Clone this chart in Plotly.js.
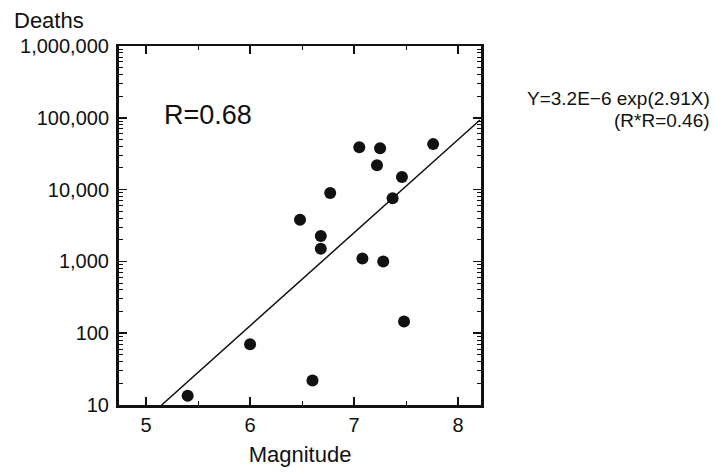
<!DOCTYPE html>
<html>
<head>
<meta charset="utf-8">
<script src="https://cdn.plot.ly/plotly-3.0.1.min.js"></script>
<style>html,body{margin:0;padding:0;background:#fff;}#chart{width:715px;height:473px;}</style>
</head>
<body>
<div id="chart"></div>
<script>
// Data
const magnitude = [5.40, 6.00, 6.60, 6.68, 6.68, 7.08, 7.28, 7.48, 7.05, 7.25, 7.76, 7.22, 7.46, 6.77, 7.37, 6.48];
const deaths    = [13.5, 70, 22, 2250, 1500, 1100, 1000, 145, 38800, 37600, 43000, 21800, 15000, 9000, 7600, 3800];
const fitX = [5.15, 8.21];
const fitY = [10, 93000];
const yTickVals = [10, 100, 1000, 10000, 100000, 1000000];
const yTickText = ['10', '100', '1,000', '10,000', '100,000', '1,000,000'];
const xTickVals = [5, 6, 7, 8];
const xTickText = ['5', '6', '7', '8'];

const FONT = 'Liberation Sans, Arial, Helvetica, sans-serif';

const yMinor = [];
for (let k = 1; k < 6; k++) for (let m = 2; m <= 9; m++) yMinor.push(m * Math.pow(10, k));

const traces = [
  {x: fitX, y: fitY, mode: 'lines', line: {color: '#111', width: 1.5}, hoverinfo: 'skip', showlegend: false},
  {x: magnitude, y: deaths, mode: 'markers', marker: {color: '#111', size: 12, line: {width: 0}}, showlegend: false}
];

const layout = {
  width: 715, height: 473,
  margin: {l: 119, r: 234, t: 46, b: 68},
  paper_bgcolor: '#fff', plot_bgcolor: '#fff',
  font: {family: FONT, color: '#111', size: 20},
  showlegend: false,
  xaxis: {
    range: [4.74, 8.22], showgrid: false, zeroline: false,
    showline: true, linecolor: '#111', linewidth: 2.5, mirror: 'ticks',
    ticks: 'inside', ticklen: 8, tickwidth: 1.5, tickcolor: '#111',
    tickvals: xTickVals, ticktext: xTickText,
    minor: {ticks: 'inside', ticklen: 4, tickwidth: 1, tickcolor: '#111', tickvals: [5.5, 6.5, 7.5]},
    tickfont: {size: 20, family: FONT},
    title: {text: 'Magnitude', font: {size: 22, family: FONT}, standoff: 12}
  },
  yaxis: {
    type: 'log', range: [1, 6], showgrid: false, zeroline: false,
    showline: true, linecolor: '#111', linewidth: 3, mirror: 'ticks',
    ticks: 'inside', ticklen: 8, tickwidth: 1.5, tickcolor: '#111',
    tickvals: yTickVals, ticktext: yTickText,
    minor: {ticks: 'inside', ticklen: 4, tickwidth: 1, tickcolor: '#111', tickvals: yMinor},
    tickfont: {size: 20, family: FONT},
    ticklabelstandoff: 3
  },
  annotations: [
    {text: 'Deaths', xref: 'paper', yref: 'paper', x: -0.2956, y: 1.0724, xanchor: 'left', yanchor: 'middle', showarrow: false, font: {size: 22, family: FONT}},
    {text: 'R=0.68', xref: 'paper', yref: 'paper', x: 0.2459, y: 0.8078, xanchor: 'center', yanchor: 'middle', showarrow: false, font: {size: 27, family: FONT}},
    {text: 'Y=3.2E\u22126 exp(2.91X)', xref: 'paper', yref: 'paper', x: 1.6354, y: 0.8524, xanchor: 'right', yanchor: 'middle', showarrow: false, font: {size: 19, family: FONT}, borderpad: 0},
    {text: '(R*R=0.46)', xref: 'paper', yref: 'paper', x: 1.6354, y: 0.7911, xanchor: 'right', yanchor: 'middle', showarrow: false, font: {size: 19, family: FONT}, borderpad: 0}
  ]
};

Plotly.newPlot('chart', traces, layout, {displayModeBar: false, staticPlot: true});
</script>
</body>
</html>
